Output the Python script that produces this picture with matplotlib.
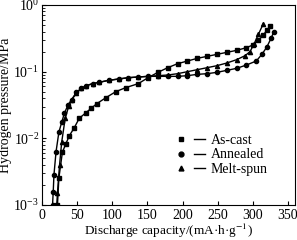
import matplotlib
matplotlib.use("Agg")
import matplotlib.pyplot as plt
from matplotlib.lines import Line2D
from matplotlib.legend_handler import HandlerTuple
import numpy as np

plt.rcParams['font.family'] = ['Liberation Serif', 'DejaVu Serif']
plt.rcParams['mathtext.fontset'] = 'stix'

# Discharge capacity (mA·h/g) and log10 hydrogen pressure (MPa)
ascast_cap = [22, 24, 29, 34, 39, 46, 53, 62, 70, 78, 91, 105, 119, 137, 151, 165, 179, 193,
              207, 221, 235, 249, 263, 277, 291, 300, 308, 315, 320, 325]
ascast_logp = [-3.0, -2.6, -2.21, -2.08, -1.96, -1.84, -1.70, -1.62, -1.55, -1.48, -1.39, -1.30,
               -1.24, -1.18, -1.09, -1.01, -0.94, -0.88, -0.84, -0.80, -0.77, -0.74, -0.71, -0.68,
               -0.64, -0.60, -0.53, -0.45, -0.38, -0.32]

annealed_cap = [15, 16, 17, 20, 24, 28, 32, 37, 42, 49, 56, 63, 72, 81, 95, 109, 123, 137, 151,
                165, 179, 193, 207, 221, 235, 249, 263, 277, 291, 305, 313, 320, 326, 330]
annealed_logp = [-3.0, -2.8, -2.55, -2.2, -1.91, -1.76, -1.62, -1.50, -1.42, -1.31, -1.25, -1.21,
                 -1.18, -1.16, -1.13, -1.11, -1.09, -1.08, -1.07, -1.07, -1.07, -1.07, -1.06,
                 -1.04, -1.03, -1.01, -0.98, -0.95, -0.90, -0.84, -0.74, -0.63, -0.50, -0.40]

meltspun_cap = [21, 22, 25, 28, 33, 38, 42, 49, 56, 63, 72, 81, 95, 109, 123, 137, 151, 165,
                179, 193, 207, 221, 235, 249, 263, 277, 289, 296, 302, 308, 315]
meltspun_logp = [-3.0, -2.82, -2.4, -2.06, -1.70, -1.52, -1.43, -1.32, -1.25, -1.21, -1.18, -1.16,
                 -1.13, -1.11, -1.09, -1.08, -1.07, -1.06, -1.05, -1.03, -1.00, -0.97, -0.94,
                 -0.91, -0.87, -0.82, -0.76, -0.70, -0.58, -0.44, -0.28]

labels = ["As-cast", "Annealed", "Melt-spun"]
markers = ["s", "o", "^"]
xticks = [0, 50, 100, 150, 200, 250, 300, 350]

fig = plt.figure(figsize=(2.97, 2.40), dpi=100)
ax = fig.add_axes([0.1414, 0.146, 0.8516, 0.833])

series = [(ascast_cap, ascast_logp), (annealed_cap, annealed_logp), (meltspun_cap, meltspun_logp)]
handles = []
for (c, lp), m, lab in zip(series, markers, labels):
    ax.plot(c, 10 ** np.array(lp), color='black', lw=1.0, marker=m, ms=3.0,
            markerfacecolor='black', markeredgecolor='black')
    h = (Line2D([], [], ls='none', marker=m, ms=3.5, color='black'),
         Line2D([], [], color='black', lw=1.0))
    handles.append(h)

ax.set_yscale('log')
ax.set_ylim(1e-3, 1e0)
ax.set_xlim(0, 360)
ax.set_xticks(xticks)
ax.tick_params(axis='both', which='both', direction='in', labelsize=10)
ax.tick_params(axis='both', which='major', length=3, width=0.8)
ax.tick_params(axis='y', which='minor', length=1.8, width=0.6)
ax.tick_params(axis='x', which='major', pad=3)
ax.tick_params(axis='y', which='major', pad=2)
for s in ax.spines.values():
    s.set_linewidth(0.8)

ax.set_xlabel("Discharge capacity/(mA·h·g$^{-1}$)", fontsize=9.5, labelpad=0)
ax.set_ylabel("Hydrogen pressure/MPa", fontsize=10, labelpad=1)

ax.legend(handles, labels, handler_map={tuple: HandlerTuple(ndivide=None, pad=0.5)},
          loc='upper left', bbox_to_anchor=(0.49, 0.405), frameon=False, fontsize=10,
          handlelength=2.1, handletextpad=0.4, labelspacing=0.12, borderpad=0.2)

fig.savefig("out.png", dpi=100)
